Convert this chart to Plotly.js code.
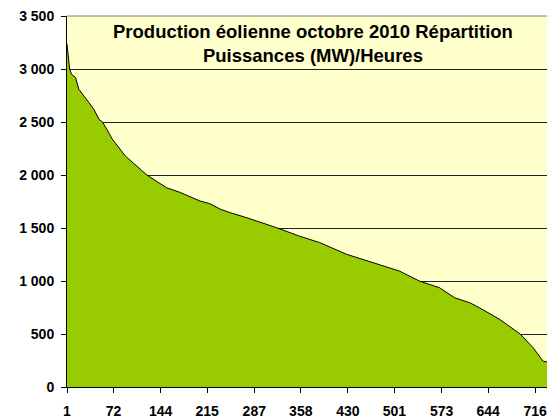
<!DOCTYPE html>
<html>
<head>
<meta charset="utf-8">
<script src="https://cdn.plot.ly/plotly-3.0.1.min.js"></script>
<style>
  html, body { margin: 0; padding: 0; background: #fff; }
  #chart { width: 547px; height: 418px; }
</style>
</head>
<body>
<div id="chart"></div>
<script>
// heures classées (duration curve)
const hours = [1, 5, 8, 14, 19, 30, 42, 50, 55, 62, 70, 90, 107, 123, 153, 174, 204, 219, 235, 250, 275, 321, 356, 387, 428, 469, 509, 539, 570, 593, 616, 631, 662, 693, 713, 728, 734];
const powerMW = [3235, 3000, 2950, 2920, 2810, 2715, 2620, 2525, 2500, 2430, 2340, 2180, 2085, 2000, 1880, 1835, 1755, 1730, 1678, 1645, 1598, 1503, 1423, 1362, 1252, 1172, 1093, 1000, 936, 842, 795, 747, 637, 500, 369, 243, 237];

const xTickVals = [1, 72, 144, 215, 287, 358, 430, 501, 573, 644, 716];
const yTickVals = [0, 500, 1000, 1500, 2000, 2500, 3000, 3500];
const yTickText = ['0', '500', '1 000', '1 500', '2 000', '2 500', '3 000', '3 500'];

const chartTitle = 'Production éolienne octobre 2010 Répartition<br>Puissances (MW)/Heures';

const font = 'Liberation Sans, Arial, sans-serif';

const trace = {
    x: hours,
    y: powerMW,
    type: 'scatter',
    mode: 'lines',
    fill: 'tozeroy',
    fillcolor: '#99CC00',
    line: { color: '#000000', width: 1 },
    hoverinfo: 'skip'
};

const layout = {
    width: 547,
    height: 418,
    margin: { l: 67, r: 0, t: 16, b: 31 },
    paper_bgcolor: '#ffffff',
    plot_bgcolor: '#FFFFCC',
    showlegend: false,
    font: { family: font, color: '#000' },
    xaxis: {
        range: [1, 734],
        tickmode: 'array',
        tickvals: xTickVals,
        ticktext: xTickVals.map(v => '<b>' + v + '</b>'),
        tickfont: { family: font, size: 14, color: '#000' },
        ticklabeloverflow: 'allow',
        ticks: 'outside', ticklen: 5, tickcolor: '#000', tickwidth: 1,
        ticklabelstandoff: 6,
        showline: true, linecolor: '#000', linewidth: 1,
        showgrid: false, zeroline: false
    },
    yaxis: {
        range: [0, 3500],
        tickmode: 'array',
        tickvals: yTickVals,
        ticktext: yTickText.map(t => '<b>' + t + '</b>'),
        tickfont: { family: font, size: 14, color: '#000' },
        ticks: 'outside', ticklen: 5, tickcolor: '#000', tickwidth: 1,
        ticklabelstandoff: 4,
        showline: true, linecolor: '#000', linewidth: 1,
        showgrid: true, gridcolor: '#222222', gridwidth: 1,
        zeroline: false
    },
    annotations: [{
        text: '<b>' + chartTitle + '</b>',
        xref: 'paper', yref: 'paper',
        x: 0.5125, xanchor: 'center',
        y: 0.992, yanchor: 'top',
        showarrow: false,
        font: { family: font, size: 18.5, color: '#000' }
    }],
    shapes: [
        { type: 'line', xref: 'paper', yref: 'paper', x0: 0, x1: 1, y0: 1, y1: 1,
          line: { color: '#808080', width: 1 } }
    ]
};

Plotly.newPlot('chart', [trace], layout, { displayModeBar: false, staticPlot: true })
    .catch((error) => {
        console.error('Error rendering plot:', error);
    });
</script>
</body>
</html>
